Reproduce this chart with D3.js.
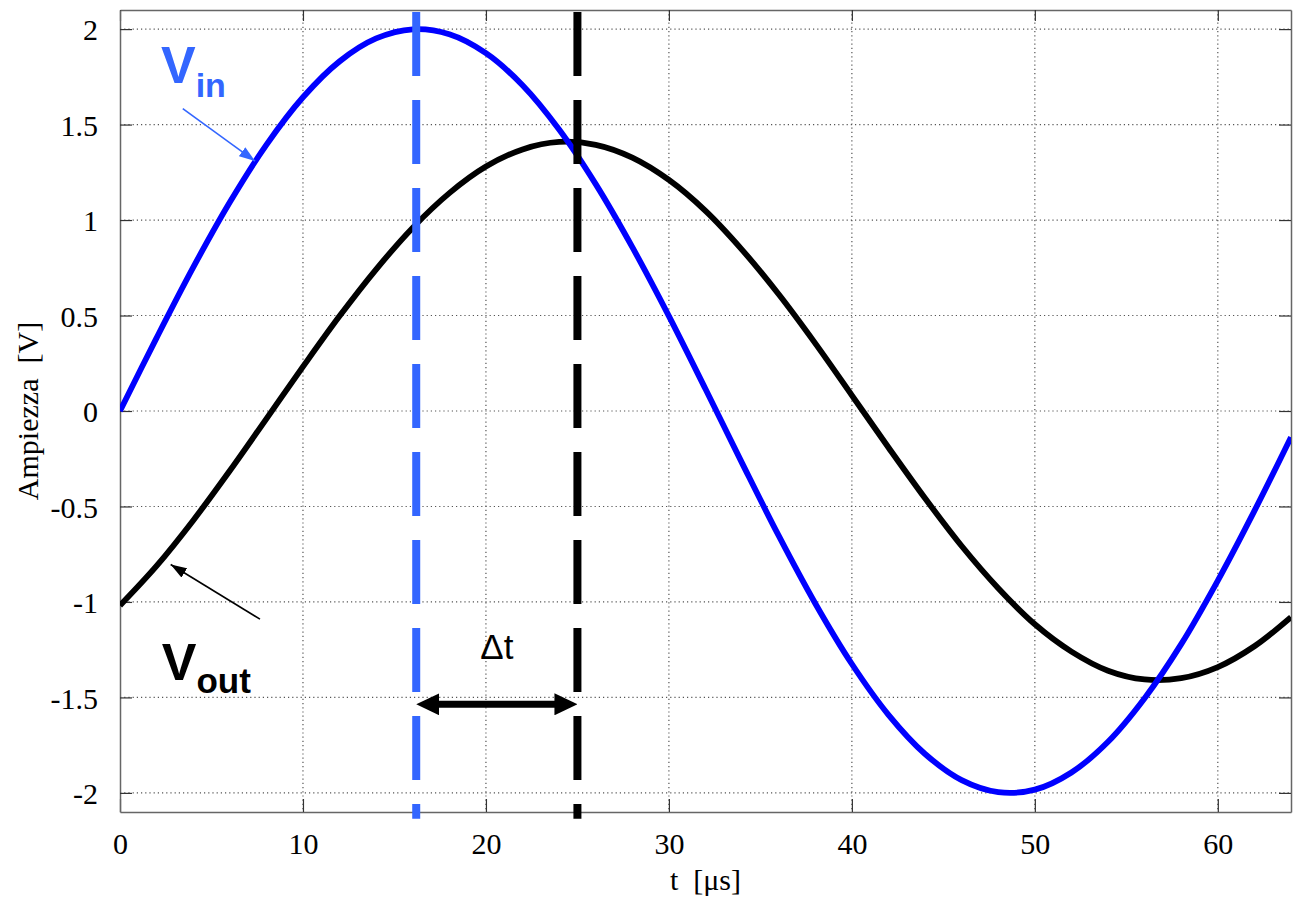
<!DOCTYPE html>
<html>
<head>
<meta charset="utf-8">
<script src="https://cdn.jsdelivr.net/npm/d3@7"></script>
<style>
    body { margin: 0; background: #fff; }
    .tick-label { font-family: "Liberation Serif", "DejaVu Serif", serif; font-size: 30px; fill: #000; }
    .note { font-family: "Liberation Sans", Arial, sans-serif; font-weight: bold; }
</style>
</head>
<body>
<div id="chart"></div>
<script>

// time samples [µs]
const timeUs = [0, 2, 4, 6, 8, 10, 12, 14, 16, 18, 20, 22, 24, 26, 28, 30, 32,
    34, 36, 38, 40, 42, 44, 46, 48, 50, 52, 54, 56, 58, 60, 62, 64]

// input voltage [V]
const vIn = [0, 0.383, 0.752, 1.093, 1.394, 1.643, 1.831, 1.951, 1.999, 1.973, 1.874, 1.706, 1.474, 1.188, 0.858, 0.497, 0.115,
    -0.273, -0.653, -1.008, -1.325, -1.591, -1.796, -1.933, -1.996, -1.983, -1.893, -1.732, -1.504, -1.221, -0.888, -0.523, -0.137]

// output voltage [V]
const vOut = [-1.018, -0.811, -0.573, -0.313, -0.041, 0.232, 0.497, 0.742, 0.960, 1.141, 1.280, 1.370, 1.409, 1.394, 1.327, 1.210, 1.048,
    0.844, 0.611, 0.354, 0.082, -0.191, -0.457, -0.707, -0.928, -1.117, -1.260, -1.360, -1.406, -1.399, -1.341, -1.232, -1.080]

const xTicks = [0, 10, 20, 30, 40, 50, 60]
const yTicks = [-2, -1.5, -1, -0.5, 0, 0.5, 1, 1.5, 2]

// peak markers (dashed lines) and delta t
const peakIn = 16.19
const peakOut = 25.0

const xDomain = [0, 64]
const yDomain = [-2.1, 2.1]

let margin = {top: 10, right: 3, bottom: 86, left: 120};
let width = 1294 - margin.left - margin.right;
let height = 898 - margin.top - margin.bottom;

let svg = d3.select('#chart').append('svg')
    .attr('width', 1294)
    .attr('height', 898)
    .append('g')
    .attr('transform', `translate(${margin.left}, ${margin.top})`);

let x = d3.scaleLinear().domain(xDomain).range([0, width]);
let y = d3.scaleLinear().domain(yDomain).range([height, 0]);

let defs = svg.append('defs');

defs.append('clipPath').attr('id', 'plotClip')
    .append('rect').attr('width', width).attr('height', height);

// arrow head; refX sets where the line end sits inside the head
function addArrow(id, color, w, h, refX) {
    defs.append('marker')
        .attr('id', id)
        .attr('markerUnits', 'userSpaceOnUse')
        .attr('viewBox', `0 0 ${w} ${h}`)
        .attr('markerWidth', w)
        .attr('markerHeight', h)
        .attr('refX', refX)
        .attr('refY', h / 2)
        .attr('orient', 'auto-start-reverse')
        .append('path')
        .attr('d', `M0,0 L${w},${h / 2} L0,${h} Z`)
        .attr('fill', color);
}
addArrow('arrowBlue', '#3366ff', 16, 11, 16);
addArrow('arrowBlack', '#000', 16, 11, 16);
addArrow('arrowBig', '#000', 23, 22, 1);

// grid
let grid = svg.append('g').attr('class', 'grid');
grid.selectAll('.vgrid').data(xTicks.filter(d => d > 0))
    .enter().append('line')
    .attr('x1', d => x(d)).attr('x2', d => x(d))
    .attr('y1', 0).attr('y2', height)
    .attr('stroke', '#555').attr('stroke-width', 1.2)
    .attr('stroke-dasharray', '1.2,3');
grid.selectAll('.hgrid').data(yTicks)
    .enter().append('line')
    .attr('x1', 0).attr('x2', width)
    .attr('y1', d => y(d)).attr('y2', d => y(d))
    .attr('stroke', '#555').attr('stroke-width', 1.2)
    .attr('stroke-dasharray', '1.2,3');

// axes box with inward ticks
let xAxisB = d3.axisBottom(x).tickValues(xTicks).tickSizeInner(-13).tickSizeOuter(0).tickPadding(21);
let xAxisT = d3.axisTop(x).tickValues(xTicks).tickSizeInner(-11).tickSizeOuter(0).tickFormat('');
let yAxisL = d3.axisLeft(y).tickValues(yTicks).tickSizeInner(-12).tickSizeOuter(0).tickPadding(22)
    .tickFormat(d => String(d));
let yAxisR = d3.axisRight(y).tickValues(yTicks).tickSizeInner(-12).tickSizeOuter(0).tickFormat('');

let gxB = svg.append('g').attr('transform', `translate(0, ${height})`).call(xAxisB);
let gxT = svg.append('g').call(xAxisT);
let gyL = svg.append('g').call(yAxisL);
let gyR = svg.append('g').attr('transform', `translate(${width}, 0)`).call(yAxisR);

[gxB, gxT, gyL, gyR].forEach(g => {
    g.select('.domain').attr('stroke', '#666').attr('stroke-width', 1.5);
    g.selectAll('.tick line').attr('stroke', '#333').attr('stroke-width', 1.2);
    g.selectAll('.tick text').attr('class', 'tick-label').attr('font-size', null).attr('font-family', null);
});
gxB.selectAll('.tick text').attr('dy', '0.71em');
gyL.selectAll('.tick text').attr('dy', '0.36em');

// curves
let line = d3.line()
    .x((d, i) => x(timeUs[i]))
    .y(d => y(d))
    .curve(d3.curveCatmullRom);

let curves = svg.append('g').attr('clip-path', 'url(#plotClip)');
curves.append('path').datum(vOut)
    .attr('d', line)
    .attr('fill', 'none').attr('stroke', '#000').attr('stroke-width', 5.8);
curves.append('path').datum(vIn)
    .attr('d', line)
    .attr('fill', 'none').attr('stroke', '#0000ff').attr('stroke-width', 5.8);

// dashed peak lines
svg.selectAll('.peak').data([{t: peakIn, c: '#3366ff'}, {t: peakOut, c: '#000'}])
    .enter().append('line')
    .attr('x1', d => x(d.t)).attr('x2', d => x(d.t))
    .attr('y1', y(2.09)).attr('y2', y(-2.136))
    .attr('stroke', d => d.c).attr('stroke-width', 8)
    .attr('stroke-dasharray', '64,24');

// delta t arrow, tips touch the dashed lines
svg.append('line')
    .attr('x1', x(peakIn) + 22).attr('x2', x(peakOut) - 22)
    .attr('y1', y(-1.536)).attr('y2', y(-1.536))
    .attr('stroke', '#000').attr('stroke-width', 7)
    .attr('marker-start', 'url(#arrowBig)')
    .attr('marker-end', 'url(#arrowBig)');
svg.append('text')
    .attr('x', x((peakIn + peakOut) / 2)).attr('y', y(-1.30))
    .attr('text-anchor', 'middle')
    .style('font-family', '"Liberation Sans", Arial, sans-serif')
    .style('font-size', '35px')
    .text('\u0394t');

// Vin label
let vinText = svg.append('text').attr('class', 'note')
    .attr('x', x(2.24)).attr('y', y(1.716))
    .attr('fill', '#3366ff');
vinText.append('tspan').style('font-size', '52px').text('V');
vinText.append('tspan').style('font-size', '34px').attr('dy', 14).text('in');
svg.append('line')
    .attr('x1', x(3.43)).attr('y1', y(1.583))
    .attr('x2', x(7.38)).attr('y2', y(1.309))
    .attr('stroke', '#3366ff').attr('stroke-width', 1.6)
    .attr('marker-end', 'url(#arrowBlue)');

// Vout label
let voutText = svg.append('text').attr('class', 'note')
    .attr('x', x(2.28)).attr('y', y(-1.41))
    .attr('fill', '#000');
voutText.append('tspan').style('font-size', '52px').text('V');
voutText.append('tspan').style('font-size', '35px').attr('dy', 13).text('out');
svg.append('line')
    .attr('x1', x(7.65)).attr('y1', y(-1.09))
    .attr('x2', x(2.77)).attr('y2', y(-0.804))
    .attr('stroke', '#000').attr('stroke-width', 1.6)
    .attr('marker-end', 'url(#arrowBlack)');

// axis titles
svg.append('text').attr('class', 'tick-label')
    .attr('x', width / 2).attr('y', height + 78)
    .attr('text-anchor', 'middle')
    .attr('xml:space', 'preserve')
    .text('t  [\u03bcs]');
svg.append('text').attr('class', 'tick-label')
    .attr('transform', `translate(${-82}, ${height / 2}) rotate(-90)`)
    .attr('text-anchor', 'middle')
    .attr('xml:space', 'preserve')
    .text('Ampiezza  [V]');

</script>
</body>
</html>
